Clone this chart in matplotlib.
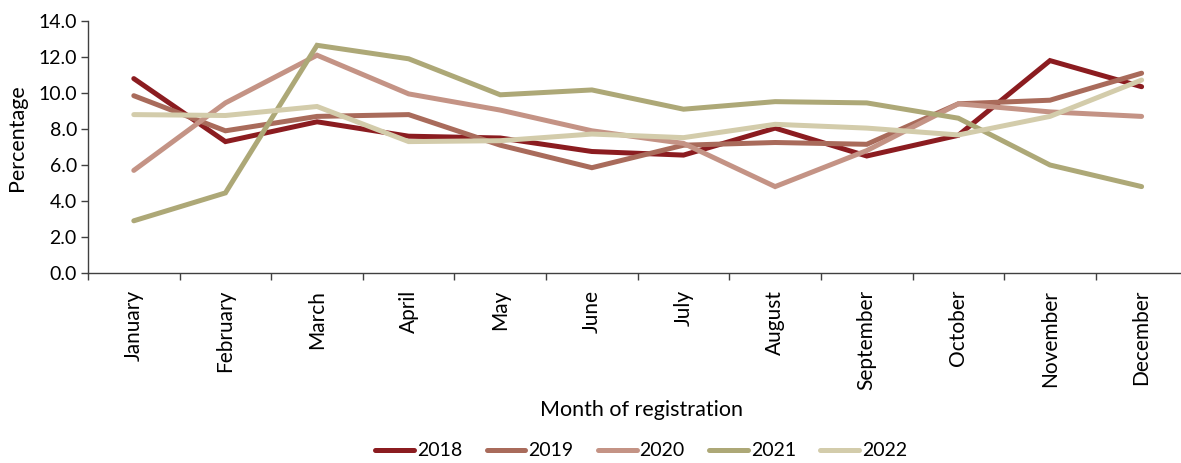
import matplotlib
matplotlib.use("Agg")
import matplotlib.pyplot as plt
from matplotlib.ticker import MultipleLocator, FixedLocator

months = ["January", "February", "March", "April", "May", "June", "July",
          "August", "September", "October", "November", "December"]

y2018 = [10.8, 7.3, 8.4, 7.6, 7.5, 6.75, 6.55, 8.05, 6.5, 7.65, 11.8, 10.35]
y2019 = [9.85, 7.9, 8.7, 8.8, 7.1, 5.85, 7.1, 7.25, 7.15, 9.4, 9.6, 11.1]
y2020 = [5.7, 9.45, 12.1, 9.95, 9.05, 7.9, 7.2, 4.8, 6.8, 9.4, 8.95, 8.7]
y2021 = [2.9, 4.45, 12.65, 11.9, 9.9, 10.17, 9.1, 9.52, 9.45, 8.6, 6.0, 4.8]
y2022 = [8.8, 8.75, 9.25, 7.3, 7.35, 7.72, 7.52, 8.26, 8.05, 7.67, 8.7, 10.72]

series = [("2018", y2018, "#8B1C20"),
          ("2019", y2019, "#A96B5B"),
          ("2020", y2020, "#C49385"),
          ("2021", y2021, "#ADA877"),
          ("2022", y2022, "#D3CCAB")]

plt.rcParams["font.family"] = ["Lato", "DejaVu Sans"]

W, H = 1181, 463
fig = plt.figure(figsize=(W / 100, H / 100), dpi=100)
ax = fig.add_axes([88 / W, 1 - 273 / H, (W - 88) / W, 252 / H])

x = list(range(len(months)))
for name, vals, col in series:
    ax.plot(x, vals, color=col, lw=3.6, label=name, solid_capstyle="round",
            solid_joinstyle="miter")

ax.set_xlim(-0.5, 11.43)
ax.yaxis.set_major_locator(MultipleLocator(2))
ax.set_yticks([0, 2, 4, 6, 8, 10, 12, 14])
ax.set_yticklabels([f"{v:.1f}" for v in ax.get_yticks()])
ax.set_ylim(0, 14)
ax.set_xticks(x)
ax.set_xticklabels(months, rotation=90, fontsize=15)
ax.xaxis.set_minor_locator(FixedLocator([i - 0.5 for i in range(13)]))
ax.tick_params(axis="x", which="major", length=0, pad=12)
ax.tick_params(axis="x", which="minor", length=5, width=1, color="#404040")
ax.tick_params(axis="y", length=5, width=1, color="#404040", labelsize=14, pad=3)

for s in ["top", "right"]:
    ax.spines[s].set_visible(False)
for s in ["left", "bottom"]:
    ax.spines[s].set_color("#404040")
    ax.spines[s].set_linewidth(1)

ax.set_ylabel("Percentage", fontsize=15.5)
ax.yaxis.set_label_coords(-0.0558, 0.536)
ax.set_xlabel("Month of registration", fontsize=15.5)
ax.xaxis.set_label_coords(0.506, -0.504)

fig.legend(loc="center", bbox_to_anchor=(0.543, 1 - 451 / H), ncol=5, frameon=False,
           fontsize=14, handlelength=2.0, handletextpad=0.15, columnspacing=1.25)

fig.savefig("out.png", dpi=100)
